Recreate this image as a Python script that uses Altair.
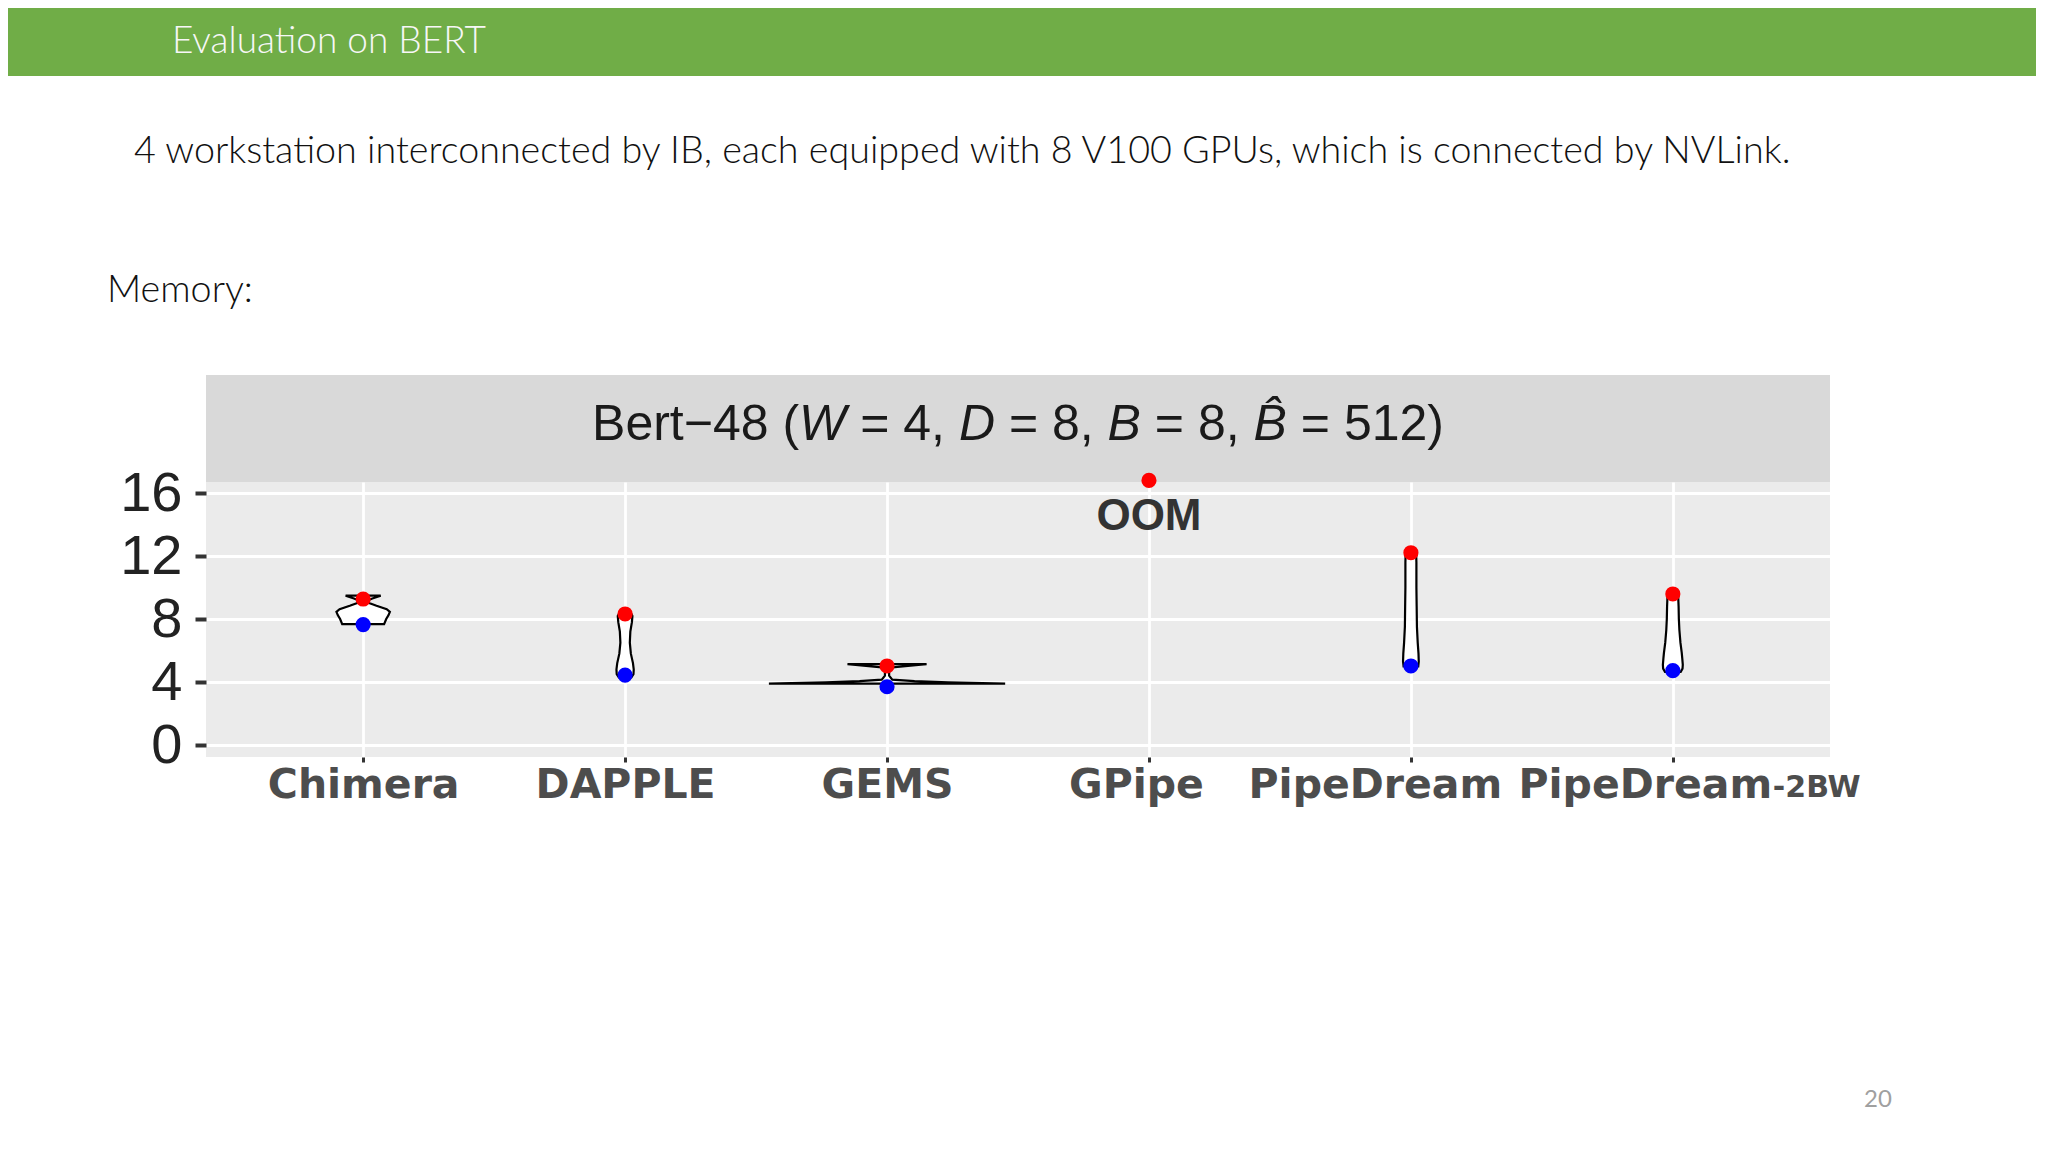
import altair as alt
import pandas as pd

# ---------------- data ----------------
categories = ["Chimera", "DAPPLE", "GEMS", "GPipe", "PipeDream", "PipeDream-2BW"]
peak_mem = [9.27, 8.32, 5.02, 16.8, 12.21, 9.59]     # red dots
low_mem = [7.65, 4.44, 3.70, None, 5.02, 4.72]       # blue dots
oom_note = [None, None, None, "OOM", None, None]

# violin outlines: memory level (y) and half width (in category units)
chimera_y = [7.68, 8.0, 8.25, 8.46, 8.62, 8.84, 9.0, 9.12, 9.3, 9.48]
chimera_hw = [0.080, 0.088, 0.097, 0.102, 0.090, 0.051, 0.025, 0.008, 0.035, 0.067]
dapple_y = [4.3, 4.5, 4.8, 5.2, 5.8, 6.5, 7.2, 7.8, 8.2, 8.45]
dapple_hw = [0.024, 0.032, 0.033, 0.030, 0.022, 0.018, 0.020, 0.026, 0.028, 0.020]
gems_y = [3.9, 3.98, 4.06, 4.15, 4.4, 4.7, 4.93, 5.03, 5.1, 5.14]
gems_hw = [0.451, 0.233, 0.105, 0.02, 0.008, 0.008, 0.02, 0.08, 0.13, 0.151]
pipedream_y = [5.0, 5.3, 5.8, 6.5, 7.5, 8.8, 10.0, 11.0, 11.6, 12.2]
pipedream_hw = [0.028, 0.030, 0.029, 0.026, 0.023, 0.022, 0.021, 0.021, 0.021, 0.020]
pd2bw_y = [4.65, 4.85, 5.1, 5.5, 5.85, 6.5, 7.3, 8.0, 8.8, 9.6]
pd2bw_hw = [0.030, 0.037, 0.038, 0.036, 0.034, 0.029, 0.025, 0.023, 0.022, 0.020]

y_ticks = [0, 2, 4, 6, 8, 10, 12, 14, 16]

slide_title = "Evaluation on BERT"
slide_text = "4 workstation interconnected by IB, each equipped with 8 V100 GPUs, which is connected by NVLink."
slide_sub = "Memory:"
page_no = "20"
strip_parts = ["Bert\u221248 (", "W", " = 4, ", "D", " = 8, ", "B", " = 8, ", "B\u0302", " = 512)"]
strip_italic = [False, True, False, True, False, True, False, True, False]

# ---------------- tables ----------------
idx = list(range(1, len(categories) + 1))
violins = [("Chimera", chimera_y, chimera_hw), ("DAPPLE", dapple_y, dapple_hw),
           ("GEMS", gems_y, gems_hw), ("PipeDream", pipedream_y, pipedream_hw),
           ("PipeDream-2BW", pd2bw_y, pd2bw_hw)]
rows = []
for cat, ys, hws in violins:
    for yv, hv in zip(ys, hws):
        rows.append({"cat": cat, "idx": categories.index(cat) + 1, "y": yv, "hw": hv})
df_v = pd.DataFrame(rows)

df_p = pd.DataFrame({"cat": categories, "idx": idx, "peak": peak_mem,
                     "low": low_mem, "note": oom_note})

# ---------------- layout / style ----------------
W, H = 1624, 275
NUM_FONT = "Liberation Sans, Arial, sans-serif"
SLIDE = "Lato, Open Sans, sans-serif"

base_labels = [c.split("-")[0] for c in categories]
suffix = "-" + categories[-1].split("-")[1]
label_js = "[''," + ",".join("'%s'" % s for s in base_labels) + "][datum.value]"

xscale = alt.Scale(domain=[0.4, 6.6], nice=False, zero=False)
yscale = alt.Scale(domain=[-0.76, 16.7], nice=False, zero=False)

x_axis = alt.Axis(values=idx, labelExpr=label_js, title=None, grid=True,
                  gridColor="white", gridWidth=2.8, domain=False,
                  tickColor="#333333", tickSize=5, tickWidth=3,
                  labelFont="DejaVu Sans", labelFontWeight="bold", labelFontSize=41,
                  labelColor="#4D4D4D", labelBaseline="alphabetic", labelPadding=35,
                  labelFlush=False, labelOverlap=False, labelBound=False, labelLimit=0,
                  labelOffset={"condition": [{"test": "datum.value == 4", "value": -13},
                                             {"test": "datum.value == 5", "value": -36},
                                             {"test": "datum.value == 6", "value": -28}],
                               "value": 0})
y_axis = alt.Axis(values=y_ticks, title=None, grid=True, gridColor="white",
                  gridWidth={"condition": {"test": "datum.value % 4 == 0", "value": 2.8}, "value": 1.4},
                  labelExpr="datum.value % 4 == 0 ? datum.label : ''",
                  domain=False, tickSize=11, tickWidth=4,
                  tickColor={"condition": {"test": "datum.value % 4 == 0", "value": "#333333"},
                             "value": "transparent"},
                  labelFont=NUM_FONT, labelFontSize=56, labelColor="#222222", labelPadding=13)


def one(t="x"):
    return pd.DataFrame({"t": [t]})


def deco_text(text, x, y, size, font, color, weight="normal", style="normal", align="left"):
    return alt.Chart(one(text)).mark_text(
        align=align, baseline="alphabetic", font=font, fontSize=size,
        fontWeight=weight, fontStyle=style, color=color
    ).encode(x=alt.value(x), y=alt.value(y), text="t:N")


# ---------------- decorations ----------------
banner = alt.Chart(one()).mark_rect(color="#70AD47").encode(
    x=alt.value(-198), x2=alt.value(W + 210), y=alt.value(-474), y2=alt.value(-406))
strip = alt.Chart(one()).mark_rect(color="#D9D9D9").encode(
    x=alt.value(0), x2=alt.value(W), y=alt.value(-107), y2=alt.value(0))

texts = [
    deco_text(slide_title, -34, -429, 37, SLIDE, "#F7F7F7", weight=300),
    deco_text(slide_text, -72, -319, 37.7, SLIDE, "#111111", weight=300),
    deco_text(slide_sub, -99, -180, 37.7, SLIDE, "#111111", weight=300),
    deco_text(page_no, 1672, 625, 24, SLIDE, "#A0A0A0", align="center"),
]

# strip title laid out piece by piece with Arial/Liberation advance widths (1/1000 em)
ADV = {"B": 667, "e": 556, "r": 333, "t": 278, "\u2212": 584, "4": 556, "8": 556,
       " ": 278, "(": 333, ")": 333, "W": 944, "=": 584, ",": 278, "D": 722,
       "5": 556, "1": 556, "2": 556, "\u0302": 0}
STRIP_SIZE = 50
adv = lambda s: sum(ADV[c] for c in s) * STRIP_SIZE / 1000.0
total = sum(adv(p) for p in strip_parts)
cursor = W / 2.0 - total / 2.0
for part, ital in zip(strip_parts, strip_italic):
    lead = len(part) - len(part.lstrip(" "))
    texts.append(deco_text(part.strip(" "), cursor + adv(" " * lead), -42, STRIP_SIZE,
                           NUM_FONT, "#1A1A1A", style="italic" if ital else "normal"))
    cursor += adv(part)

# ---------------- data layers ----------------
violin = alt.Chart(df_v).mark_area(
    orient="horizontal", fill="white", stroke="black", strokeWidth=2.2
).transform_calculate(
    lo="datum.idx - datum.hw", hi="datum.idx + datum.hw"
).encode(
    y=alt.Y("y:Q", scale=yscale, axis=y_axis),
    x=alt.X("lo:Q", scale=xscale, axis=x_axis),
    x2="hi:Q",
    detail="cat:N",
)

red = alt.Chart(df_p).mark_point(filled=True, shape="circle", size=230, opacity=1,
                                 color="#FF0000").encode(
    x=alt.X("idx:Q", scale=xscale), y=alt.Y("peak:Q", scale=yscale))
blue = alt.Chart(df_p).transform_filter("isValid(datum.low)").mark_point(
    filled=True, shape="circle", size=230, opacity=1, color="#0000FF").encode(
    x=alt.X("idx:Q", scale=xscale), y=alt.Y("low:Q", scale=yscale))

oom = alt.Chart(df_p).transform_filter("isValid(datum.note)").mark_text(
    font=NUM_FONT, fontWeight="bold", fontSize=44, color="#333333",
    baseline="middle", dy=37
).encode(x=alt.X("idx:Q", scale=xscale), y=alt.Y("peak:Q", scale=yscale), text="note:N")

suffix_df = pd.DataFrame({"idx": [idx[-1]], "t": [suffix]})
suffix_txt = alt.Chart(suffix_df).mark_text(
    font="DejaVu Sans", fontWeight="bold", fontSize=30, color="#4D4D4D",
    align="left", baseline="alphabetic", dx=100
).encode(x=alt.X("idx:Q", scale=xscale), y=alt.value(H + 40), text="t:N")

chart = alt.layer(
    violin, banner, strip, *texts, red, blue, oom, suffix_txt
).properties(
    width=W, height=H,
    padding={"left": 198, "top": 474, "right": 206, "bottom": 383},
    autosize=alt.AutoSizeParams(type="none"),
).configure(background="white").configure_view(fill="#EBEBEB", strokeWidth=0)

chart.save("out.html", embed_options={"renderer": "svg", "actions": False})
